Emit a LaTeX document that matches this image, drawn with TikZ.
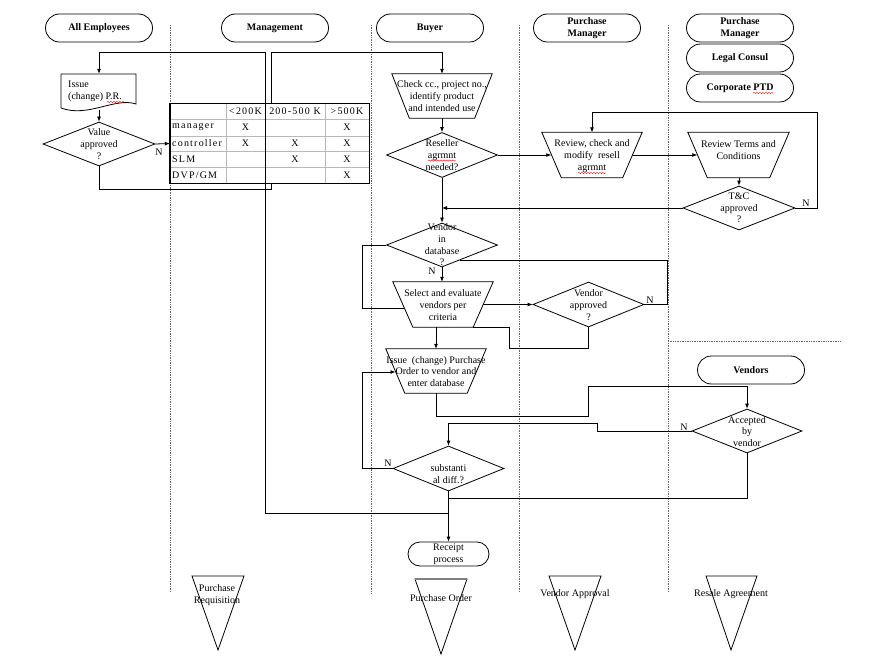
\documentclass[tikz,border=0pt]{standalone}
\usepackage{fontspec}
\setmainfont{Liberation Serif}
\newfontfamily\tblfont[LetterSpace=12]{Liberation Serif}
\usetikzlibrary{shapes.geometric,arrows.meta,calc,decorations.pathmorphing}
\newcommand\mytrap[2]{\draw[shp] (#1.north west) -- (#1.north east) -- ([xshift=-#2]#1.south east) -- ([xshift=#2]#1.south west) -- cycle;}
\tikzset{
  ln/.style={line width=0.8pt},
  arr/.style={ln,-{Latex[length=5pt,width=4pt]}},
  shp/.style={line width=0.8pt},
  lane/.style={densely dotted, gray!80!black, line width=0.7pt},
  hdr/.style={draw, line width=0.8pt, rounded corners=14pt, minimum width=107pt, minimum height=28pt, inner sep=0pt, align=center, font=\bfseries\fontsize{10}{11.7}\selectfont},
  box/.style={inner sep=0pt, draw=none},
  dia/.style={diamond, draw, line width=0.8pt, inner sep=0pt},
  txt/.style={inner sep=0pt, align=center, font=\fontsize{10}{11.7}\selectfont},
  tt/.style={inner sep=0pt, font=\tblfont\fontsize{10}{12}\selectfont},
  lab/.style={inner sep=0pt, font=\fontsize{10}{12}\selectfont},
  spell/.style={red, line width=0.4pt, decorate, decoration={snake, amplitude=0.6pt, segment length=3pt}}
}
\begin{document}
\begin{tikzpicture}[x=1pt,y=-1pt]
\fill[white] (0,0) rectangle (888,666);
\useasboundingbox (0,0) rectangle (888,666);

% lanes
\draw[lane] (170,25) -- (170,592);
\draw[lane] (371,25) -- (371,594);
\draw[lane] (519,25) -- (519,592);
\draw[lane] (668,25) -- (668,592);
\draw[lane] (668,341) -- (840,341);

% headers
\node[hdr] (hAE) at (99,28) {All Employees};
\node[hdr] (hMg) at (275,28) {Management};
\node[hdr] (hBu) at (430,28) {Buyer};
\node[hdr] (hPM) at (587,28) {Purchase\\Manager};
\node[hdr] (hPM2) at (740,28) {Purchase\\Manager};
\node[hdr] (hLC) at (740,58) {Legal Consul};
\node[hdr] (hCP) at (740,88) {Corporate PTD};
\node[hdr] (hVe) at (751,370) {Vendors};

% issue PR document
\node[box, minimum width=75pt, minimum height=36pt] (pr) at (99,92) {};
\draw[shp] (61,108) -- (61,74) -- (136,74) -- (136,104) .. controls (115,97) and (88,118) .. (61,108);
\node[txt, align=left, anchor=west] (pr-t) at (68,91) {Issue\\(change) P.R.};

% value approved
\node[dia, minimum width=112pt, minimum height=44pt] (va) at (99,144) {};
\node[txt] (va-t) at (99,144) {Value\\approved\\?};

% buyer lane shapes
\node[box, minimum width=100pt, minimum height=44pt] (chk) at (442,96) {};
\mytrap{chk}{17.5pt}
\node[txt] (chk-t) at (442,96) {Check cc., project no.,\\identify product\\and intended use};

\node[dia, minimum width=111pt, minimum height=45pt] (rs) at (442,155) {};
\node[txt] (rs-t) at (442,155) {Reseller\\agrmnt\\needed?};

\node[box, minimum width=100pt, minimum height=45pt] (rv) at (592,155) {};
\mytrap{rv}{19.5pt}
\node[txt] (rv-t) at (592,156) {Review, check and\\modify~ resell\\agrmnt};

\node[box, minimum width=101pt, minimum height=45pt] (rt) at (738.5,155) {};
\mytrap{rt}{19.5pt}
\node[txt] (rt-t) at (738.5,150) {Review Terms and\\Conditions};

\node[dia, minimum width=112pt, minimum height=44pt] (tc) at (739,208) {};
\node[txt] (tc-t) at (739,208) {T\&C\\approved\\?};

\node[dia, minimum width=111pt, minimum height=44pt] (vd) at (442,245) {};
\node[txt] (vd-t) at (442,245) {Vendor\\in\\database\\?};

\node[box, minimum width=100pt, minimum height=45pt] (se) at (443,304.5) {};
\mytrap{se}{20pt}
\node[txt] (se-t) at (443,305) {Select and evaluate\\vendors per\\criteria};

\node[dia, minimum width=111pt, minimum height=45pt] (vap) at (588.5,304.5) {};
\node[txt] (vap-t) at (588.5,305) {Vendor\\approved\\?};

\node[box, minimum width=100pt, minimum height=44pt] (po) at (436,371) {};
\mytrap{po}{19pt}
\node[txt] (po-t) at (436,371.5) {Issue~ (change) Purchase\\Order to vendor and\\enter database};

\node[dia, minimum width=111pt, minimum height=45pt] (sd) at (448.5,468.5) {};
\node[txt] (sd-t) at (448.5,474) {substanti\\al diff.?};

\node[dia, minimum width=110pt, minimum height=44pt] (av) at (747,431) {};
\node[txt] (av-t) at (747,431.5) {Accepted\\by\\vendor};

\node[draw, line width=0.8pt, rounded corners=12pt, minimum width=81pt, minimum height=24pt, inner sep=0pt] (rp) at (448.5,554) {};
\node[txt] (rp-t) at (448.5,554) {Receipt\\process};

% coordinates
\coordinate (j1) at (448.5,513);
\coordinate (j2) at (448.5,498);
\coordinate (sel) at (404.5,308);
\coordinate (vdr) at (459.7,260);
\coordinate (pol) at (395.5,372);

% connector behind table
\draw[arr] (va.south) -- ++(0,23) -| (271,52) -| (chk.north);

% table
\node[fill=white, minimum width=199pt, minimum height=79pt, inner sep=0pt] (tbl) at (269.5,143.5) {};
\foreach \yy in {119,136,151,167} \draw[gray!55, line width=0.7pt] (170,\yy) -- (369,\yy);
\foreach \xx in {226,265,325} \draw[gray!55, line width=0.7pt] (\xx,104) -- (\xx,183);
\draw[line width=1.4pt] (tbl.north west) rectangle (tbl.south east);
\node[tt] at (245.5,111.5) {<200K};
\node[tt] at (295,111.5) {200-500 K};
\node[tt] at (347,111.5) {>500K};
\node[tt, anchor=west] at (172,127.5) {manager};
\node[tt, anchor=west] at (172,143.5) {controller};
\node[tt, anchor=west] at (172,159) {SLM};
\node[tt, anchor=west] at (172,175) {DVP/GM};
\node[tt] at (245.5,127.5) {X};
\node[tt] at (347,127.5) {X};
\node[tt] at (245.5,143.5) {X};
\node[tt] at (295,143.5) {X};
\node[tt] at (347,143.5) {X};
\node[tt] at (295,159) {X};
\node[tt] at (347,159) {X};
\node[tt] at (347,175) {X};

% connectors
\draw[arr] (j1) -| (265,52) -| (pr.north);
\draw[arr] (pr.south) -- (va.north);
\draw[arr] (va.east) -- (tbl.west);
\node[lab] at (159,152) {N};
\draw[arr] (chk.south) -- (rs.north);
\draw[arr] (rs.east) -- ([xshift=9.5pt]rv.west);
\draw[arr] ([xshift=-9.5pt]rv.east) -- ([xshift=9.5pt]rt.west);
\draw[arr] ([xshift=0.5pt]rt.south) -- (tc.north);
\draw[arr] (tc.east) -| (817,112) -| (rv.north);
\node[lab] at (806,203) {N};
\draw[arr] (tc.west) -- (tc.west -| rs.south);
\draw[arr] (rs.south) -- (vd.north);
\draw[arr] (vd.south) -- (vd.south |- se.north);
\node[lab] at (432,271) {N};
\draw[ln] (vd.west) -| (362,308) -- (sel);
\draw[arr] ([xshift=-10pt]se.east) -- (vap.west);
\draw[ln] (vap.east) -| (667,260) -- (vdr);
\node[lab] at (650,300) {N};
\draw[ln] (vap.south) |- (509,348) |- ([xshift=-20pt]se.south east);
\draw[arr] (po.north |- se.south) -- (po.north);
\draw[arr] (sd.west) -| (362,372) -- (pol);
\node[lab] at (388,463) {N};
\draw[arr] (po.south) |- (588,416) |- (747,386) -- (av.north);
\draw[arr] (av.west) -| (597,423) -| (sd.north);
\node[lab] at (684,427) {N};
\draw[ln] (av.south) |- (j2);
\draw[arr] (sd.south) -- (rp.north);

% bottom triangles
\draw[shp] (192,576) -- (244,576) -- (218,650) -- cycle;
\node[txt] (t1) at (217,595) {Purchase\\Requisition};
\draw[shp] (415,579) -- (467,579) -- (441,654) -- cycle;
\draw[gray, line width=1.4pt] (415,579) -- (467,579);
\node[txt] (t2) at (441,598) {Purchase Order};
\draw[shp] (549,576) -- (601,576) -- (575,650) -- cycle;
\node[txt] (t3) at (575,594) {Vendor Approval};
\draw[shp] (706,576) -- (757,576) -- (731,650) -- cycle;
\node[txt] (t4) at (731,594) {Resale Agreement};

% spelling marks
\draw[spell] (107,102) -- (124,102);
\draw[spell] (428,160.5) -- (456,160.5);
\draw[spell] (578,173) -- (606,173);
\draw[spell] (753,93) -- (773,93);
\end{tikzpicture}
\end{document}
